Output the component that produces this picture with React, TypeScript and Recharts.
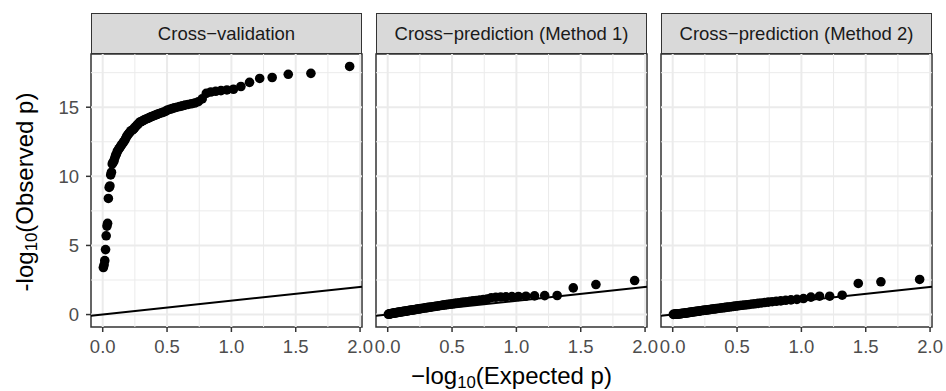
import { ScatterChart, Scatter, XAxis, YAxis, ReferenceLine, ReferenceArea } from 'recharts';

// expected -log10(p), largest first
const expected = [
  1.919, 1.618, 1.442, 1.317, 1.220, 1.141, 1.074, 1.016, 0.965, 0.919,
  0.878, 0.840, 0.805, 0.773, 0.743, 0.715, 0.689, 0.664, 0.640, 0.618,
  0.597, 0.577, 0.557, 0.539, 0.521, 0.504, 0.488, 0.472, 0.457, 0.442,
  0.428, 0.414, 0.401, 0.388, 0.375, 0.363, 0.351, 0.339, 0.328, 0.317,
  0.306, 0.296, 0.286, 0.276, 0.266, 0.256, 0.247, 0.238, 0.229, 0.220,
  0.212, 0.203, 0.195, 0.187, 0.179, 0.171, 0.163, 0.156, 0.148, 0.141,
  0.134, 0.127, 0.120, 0.113, 0.106, 0.100, 0.093, 0.087, 0.080, 0.074,
  0.068, 0.062, 0.056, 0.050, 0.044, 0.038, 0.033, 0.027, 0.022, 0.016,
  0.011, 0.005,
];

const obsCrossValidation = [
  17.95, 17.45, 17.38, 17.15, 17.08, 16.8, 16.5, 16.3, 16.25, 16.2,
  16.15, 16.1, 16.0, 15.6, 15.4, 15.3, 15.25, 15.2, 15.15, 15.1,
  15.05, 15.0, 14.95, 14.9, 14.85, 14.8, 14.7, 14.65, 14.6, 14.55,
  14.5, 14.45, 14.4, 14.35, 14.3, 14.25, 14.2, 14.15, 14.1, 14.05,
  14.0, 13.95, 13.9, 13.8, 13.7, 13.6, 13.5, 13.4, 13.35, 13.3,
  13.2, 13.1, 13.0, 12.9, 12.75, 12.6, 12.5, 12.4, 12.3, 12.2,
  12.1, 12.0, 11.9, 11.8, 11.6, 11.5, 11.3, 11.1, 11.0, 10.9,
  10.3, 10.1, 9.3, 9.2, 8.4, 6.6, 6.4, 5.7, 4.7, 3.9,
  3.6, 3.4,
];

const obsMethod1 = [
  2.46, 2.17, 1.93, 1.38, 1.37, 1.35, 1.33, 1.31, 1.30, 1.28,
  1.27, 1.25, 1.22, 1.12, 1.08, 1.05, 1.02, 0.99, 0.96, 0.93,
  0.90, 0.88, 0.85, 0.83, 0.81, 0.78, 0.76, 0.74, 0.72, 0.70,
  0.68, 0.66, 0.64, 0.62, 0.60, 0.58, 0.57, 0.55, 0.53, 0.52,
  0.50, 0.49, 0.47, 0.46, 0.44, 0.43, 0.41, 0.40, 0.39, 0.37,
  0.36, 0.35, 0.33, 0.32, 0.31, 0.30, 0.29, 0.27, 0.26, 0.25,
  0.24, 0.23, 0.22, 0.21, 0.20, 0.19, 0.18, 0.17, 0.16, 0.15,
  0.14, 0.13, 0.12, 0.11, 0.10, 0.09, 0.08, 0.07, 0.06, 0.05,
  0.04, 0.02,
];

const obsMethod2 = [
  2.54, 2.37, 2.25, 1.40, 1.33, 1.33, 1.26, 1.16, 1.10, 1.06,
  1.03, 0.99, 0.96, 0.93, 0.90, 0.87, 0.84, 0.81, 0.78, 0.76,
  0.73, 0.71, 0.69, 0.67, 0.65, 0.63, 0.61, 0.59, 0.57, 0.55,
  0.54, 0.52, 0.50, 0.49, 0.47, 0.46, 0.44, 0.43, 0.41, 0.40,
  0.39, 0.37, 0.36, 0.35, 0.33, 0.32, 0.31, 0.30, 0.29, 0.28,
  0.26, 0.25, 0.24, 0.23, 0.22, 0.21, 0.20, 0.19, 0.18, 0.17,
  0.16, 0.15, 0.14, 0.13, 0.12, 0.11, 0.10, 0.09, 0.09, 0.08,
  0.07, 0.07, 0.06, 0.05, 0.05, 0.04, 0.04, 0.03, 0.03, 0.02,
  0.02, 0.01,
];

const panelTitles = ['Cross\u2212validation', 'Cross\u2212prediction (Method 1)', 'Cross\u2212prediction (Method 2)'];
const xTicks = [0, 0.5, 1, 1.5, 2];
const xMinor = [0.25, 0.75, 1.25, 1.75];
const yTicks = [0, 5, 10, 15];
const yMinor = [2.5, 7.5, 12.5, 17.5];
const xDomain = [-0.091, 2.015];
const yDomain = [-0.9, 18.85];

const FONT = '"Liberation Sans", Arial, Helvetica, sans-serif';
const PLOT_W = 271;
const PAD = 20;

const dot = (p: any) => <circle cx={p.cx} cy={p.cy} r={4.8} fill="#000" />;

function Panel({ title, values, x0, showY }: { title: string; values: number[]; x0: number; showY: boolean }) {
  const data = expected.map((x, i) => ({ x, y: values[i] }));
  const leftPad = showY ? 91 : PAD;
  return (
    <>
      <div
        style={{
          position: 'absolute', left: x0, top: 13, width: PLOT_W, height: 41,
          boxSizing: 'border-box', background: '#D9D9D9', border: '1.5px solid #333',
          display: 'flex', alignItems: 'center', justifyContent: 'center',
          fontFamily: FONT, fontSize: 18.5, color: '#1A1A1A', whiteSpace: 'nowrap',
        }}
      >
        {title}
      </div>
      <div style={{ position: 'absolute', left: x0 - leftPad, top: 52 }}>
        <ScatterChart
          width={leftPad + PLOT_W + PAD}
          height={339}
          margin={{ top: 2, right: PAD, bottom: 24, left: showY ? 0 : PAD }}
        >
          <XAxis
            type="number" dataKey="x" domain={xDomain} ticks={xTicks} interval={0}
            allowDataOverflow height={40} axisLine={false} tickSize={5} tickMargin={8}
            tickLine={{ stroke: '#333', strokeWidth: 1.5 }}
            tick={{ fill: '#4D4D4D', fontSize: 18.5, fontFamily: FONT }}
            tickFormatter={(v: number) => v.toFixed(1)}
          />
          <YAxis
            type="number" dataKey="y" domain={yDomain} ticks={yTicks} interval={0}
            allowDataOverflow hide={!showY} width={91} axisLine={false} tickSize={5} tickMargin={7}
            tickLine={{ stroke: '#333', strokeWidth: 1.5 }}
            tick={{ fill: '#4D4D4D', fontSize: 18.5, fontFamily: FONT }}
          />
          {xMinor.map((v) => <ReferenceLine key={'xm' + v} x={v} stroke="#EBEBEB" strokeWidth={1} />)}
          {yMinor.map((v) => <ReferenceLine key={'ym' + v} y={v} stroke="#EBEBEB" strokeWidth={1} />)}
          {xTicks.map((v) => <ReferenceLine key={'xM' + v} x={v} stroke="#EBEBEB" strokeWidth={2} />)}
          {yTicks.map((v) => <ReferenceLine key={'yM' + v} y={v} stroke="#EBEBEB" strokeWidth={2} />)}
          <ReferenceLine
            segment={[{ x: xDomain[0], y: xDomain[0] }, { x: xDomain[1], y: xDomain[1] }]}
            stroke="#000" strokeWidth={2}
          />
          <Scatter data={data} shape={dot} isAnimationActive={false} />
          <ReferenceArea
            x1={xDomain[0]} x2={xDomain[1]} y1={yDomain[0]} y2={yDomain[1]}
            fill="none" fillOpacity={0} stroke="#333" strokeWidth={1.5} ifOverflow="visible"
          />
        </ScatterChart>
      </div>
    </>
  );
}

export default function App() {
  const obs = [obsCrossValidation, obsMethod1, obsMethod2];
  const lefts = [91, 376, 661];
  return (
    <div style={{ position: 'absolute', left: 0, top: 0, width: 946, height: 391, background: '#fff', overflow: 'hidden' }}>
      {panelTitles.map((t, i) => (
        <Panel key={t} title={t} values={obs[i]} x0={lefts[i]} showY={i === 0} />
      ))}
      <div
        style={{
          position: 'absolute', left: 25, top: 192, transform: 'translate(-50%, -50%) rotate(-90deg)',
          fontFamily: FONT, fontSize: 24, lineHeight: '24px', whiteSpace: 'nowrap', color: '#000',
        }}
      >
        -log<sub style={{ fontSize: '0.7em', verticalAlign: '-0.25em', lineHeight: 0 }}>10</sub>(Observed p)
      </div>
      <div
        style={{
          position: 'absolute', left: 91, top: 364, width: 841, textAlign: 'center',
          fontFamily: FONT, fontSize: 24, lineHeight: '24px', whiteSpace: 'nowrap', color: '#000',
        }}
      >
        {'\u2212'}log<sub style={{ fontSize: '0.7em', verticalAlign: '-0.25em', lineHeight: 0 }}>10</sub>(Expected p)
      </div>
    </div>
  );
}
